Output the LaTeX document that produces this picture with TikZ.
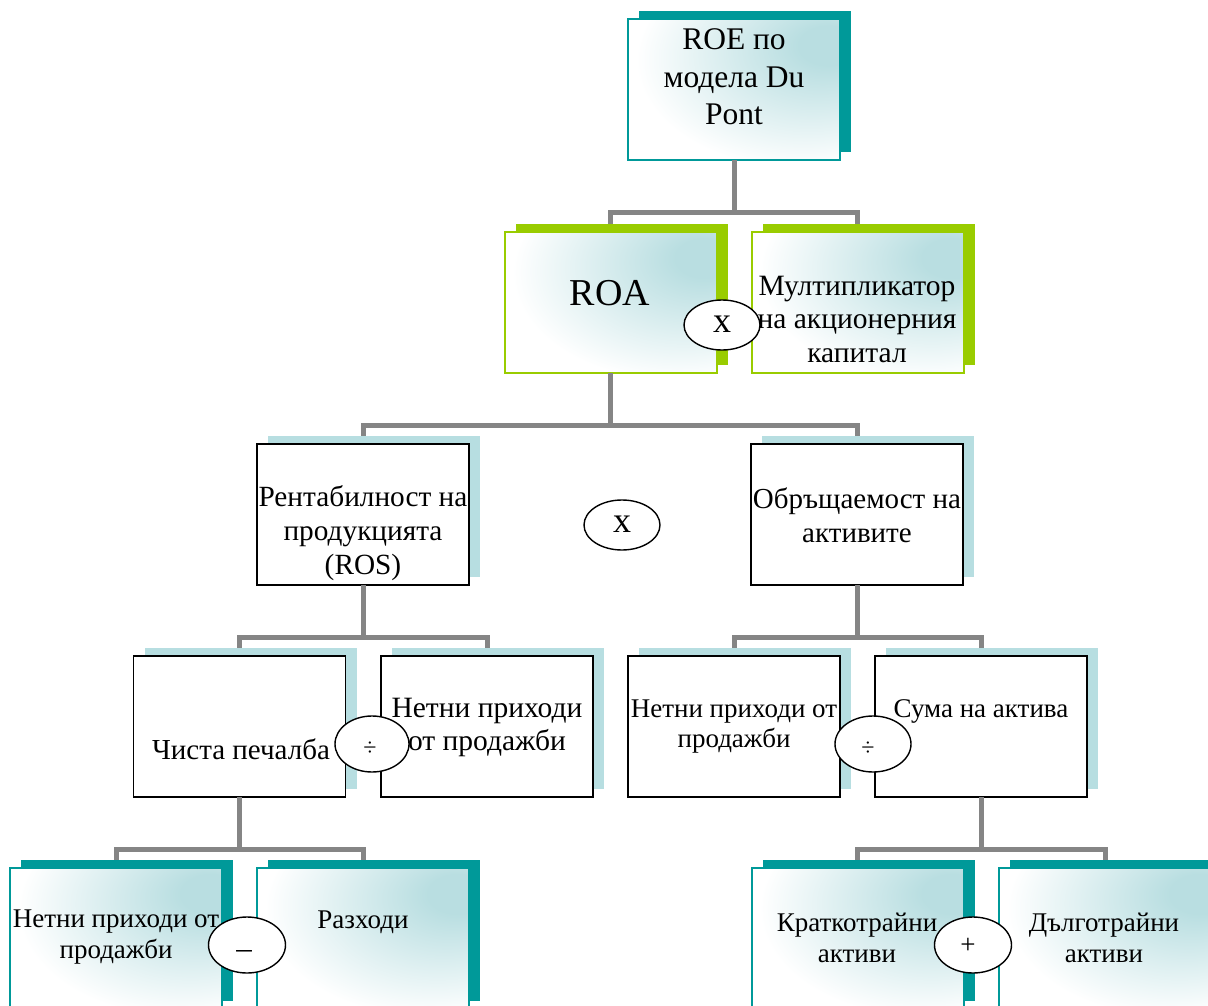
\documentclass[tikz,border=0pt]{standalone}
\usepackage{fontspec}
\setmainfont{Liberation Serif}
\usetikzlibrary{shapes.geometric}
\definecolor{tealone}{HTML}{009999}
\definecolor{greenone}{HTML}{99CC00}
\definecolor{shadowb}{HTML}{B7DEE1}
\definecolor{conng}{HTML}{858585}
\pgfdeclareradialshading{cornerglow}{\pgfpoint{24bp}{17bp}}{rgb(0bp)=(0.725,0.871,0.882); rgb(7bp)=(0.725,0.871,0.882); rgb(38bp)=(1,1,1); rgb(100bp)=(1,1,1)}
\begin{document}
\begin{tikzpicture}[x=1pt,y=-1pt,
 boxshape/.style={rectangle, minimum width=212pt, minimum height=141pt, inner sep=0pt, outer sep=0pt},
 tealshadow/.style={boxshape, fill=tealone},
 greenshadow/.style={boxshape, fill=greenone},
 lightshadow/.style={boxshape, fill=shadowb},
 gradfront/.style={boxshape, shade, shading=cornerglow, line width=2pt},
 tealfront/.style={gradfront, draw=tealone},
 greenfront/.style={gradfront, draw=greenone},
 plainfront/.style={boxshape, fill=white, draw=black, line width=1.6pt},
 conn/.style={draw=conng, line width=5pt},
 opshape/.style={ellipse, draw=black, line width=1.4pt, fill=white, minimum width=76pt, minimum height=54pt, inner sep=0pt},
 txt/.style={align=center, inner sep=0pt},
]
\fill[white] (0,0) rectangle (1208,1006);
\useasboundingbox (0,0) rectangle (1208,1006);

% shadows
\node[tealshadow]  (roeS)  at (745,82) {};
\node[greenshadow] (roaS)  at (621.5,294.5) {};
\node[greenshadow] (multS) at (868.5,294.5) {};
\node[lightshadow] (rosS)  at (374,506.5) {};
\node[lightshadow] (turnS) at (868,506.5) {};
\node[lightshadow] (netS)  at (251,718.5) {};
\node[lightshadow] (revaS) at (498,718.5) {};
\node[lightshadow] (revbS) at (745,718.5) {};
\node[lightshadow] (sumS)  at (992,718.5) {};
\node[tealshadow]  (revcS) at (127,930.5) {};
\node[tealshadow]  (expS)  at (374,930.5) {};
\node[tealshadow]  (curS)  at (868.5,930.5) {};
\node[tealshadow]  (fixS)  at (1116,930.5) {};

% front boxes
\node[tealfront]  (roe)  at (734,90) {};
\node[greenfront] (roa)  at (610.5,302.5) {};
\node[greenfront] (mult) at (857.5,302.5) {};
\node[plainfront] (ros)  at (363,514.5) {};
\node[plainfront] (turn) at (857,514.5) {};
\node[plainfront] (net)  at (239.5,726.5) {};
\node[plainfront] (reva) at (487,726.5) {};
\node[plainfront] (revb) at (734,726.5) {};
\node[plainfront] (sum)  at (981,726.5) {};
\node[tealfront]  (revc) at (116,938.5) {};
\node[tealfront]  (exp)  at (363,938.5) {};
\node[tealfront]  (cur)  at (857.5,938.5) {};
\node[tealfront]  (fix)  at (1105,938.5) {};

% connectors: from box bottoms to the tops of the shadows behind the next boxes
\draw[conn] (roe.south) -- ++(0,52) -| (roaS.north -| roa.north);
\draw[conn] (roe.south) -- ++(0,52) -| (multS.north -| mult.north);
\draw[conn] (roa.south) -- ++(0,52) -| (rosS.north -| ros.north);
\draw[conn] (roa.south) -- ++(0,52) -| (turnS.north -| turn.north);
\draw[conn] (ros.south) -- ++(0,52) -| (netS.north -| net.north);
\draw[conn] (ros.south) -- ++(0,52) -| (revaS.north -| reva.north);
\draw[conn] (turn.south) -- ++(0,52) -| (revbS.north -| revb.north);
\draw[conn] (turn.south) -- ++(0,52) -| (sumS.north -| sum.north);
\draw[conn] (net.south) -- ++(0,52) -| (revcS.north -| revc.north);
\draw[conn] (net.south) -- ++(0,52) -| (expS.north -| exp.north);
\draw[conn] (sum.south) -- ++(0,52) -| (curS.north -| cur.north);
\draw[conn] (sum.south) -- ++(0,52) -| (fixS.north -| fix.north);

% texts
\node[txt, font=\fontsize{31.5}{37.5}\selectfont] (roeT) at (734,77) {ROE по\\модела Du\\Pont};
\node[txt, font=\fontsize{38}{40}\selectfont] (roaT) at (610,293) {ROA};
\node[txt, font=\fontsize{29.5}{33.5}\selectfont] (multT) at (857,319) {Мултипликатор\\на акционерния\\капитал};
\node[txt, font=\fontsize{29.3}{34}\selectfont] (rosT) at (363,533) {Рентабилност на\\продукцията\\(ROS)};
\node[txt, font=\fontsize{29}{34}\selectfont] (turnT) at (857,515) {Обръщаемост на\\активите};
\node[txt, font=\fontsize{29}{34}\selectfont] (netT) at (241,749) {Чиста печалба};
\node[txt, font=\fontsize{29.5}{33}\selectfont] (revaT) at (487,727) {Нетни приходи\\от продажби};
\node[txt, font=\fontsize{27}{30}\selectfont] (revbT) at (734,727) {Нетни приходи от\\продажби};
\node[txt, font=\fontsize{27}{31}\selectfont] (sumT) at (981,711) {Сума на актива};
\node[txt, font=\fontsize{27}{31}\selectfont] (revcT) at (116,937.5) {Нетни приходи от\\продажби};
\node[txt, font=\fontsize{27}{31}\selectfont] (expT) at (363,922) {Разходи};
\node[txt, font=\fontsize{27}{31}\selectfont] (curT) at (857,937.5) {Краткотрайни\\активи};
\node[txt, font=\fontsize{27}{31}\selectfont] (fixT) at (1104,937.5) {Дълготрайни\\активи};

% operators
\node[opshape, minimum height=50pt] (op1) at (722,325) {};
\node[font=\fontsize{36}{36}\selectfont, inner sep=0pt] (op1T) at (722,324) {x};
\node[opshape, minimum height=50pt] (op2) at (622,525) {};
\node[font=\fontsize{36}{36}\selectfont, inner sep=0pt] (op2T) at (622,524) {x};
\node[opshape, minimum height=56pt, minimum width=74pt] (op3) at (372,744) {};
\node[font=\fontsize{24}{24}\selectfont, inner sep=0pt] (op3T) at (370,749) {÷};
\node[opshape, minimum height=56pt] (op4) at (873,744) {};
\node[font=\fontsize{24}{24}\selectfont, inner sep=0pt] (op4T) at (868,749) {÷};
\node[opshape, minimum height=56pt, minimum width=77pt] (op5) at (247,945) {};
\node[font=\fontsize{31}{31}\selectfont, inner sep=0pt] (op5T) at (244,954) {–};
\node[opshape, minimum height=56pt, minimum width=77pt] (op6) at (973,945) {};
\node[font=\fontsize{27}{27}\selectfont, inner sep=0pt] (op6T) at (968,946) {+};
\end{tikzpicture}
\end{document}
